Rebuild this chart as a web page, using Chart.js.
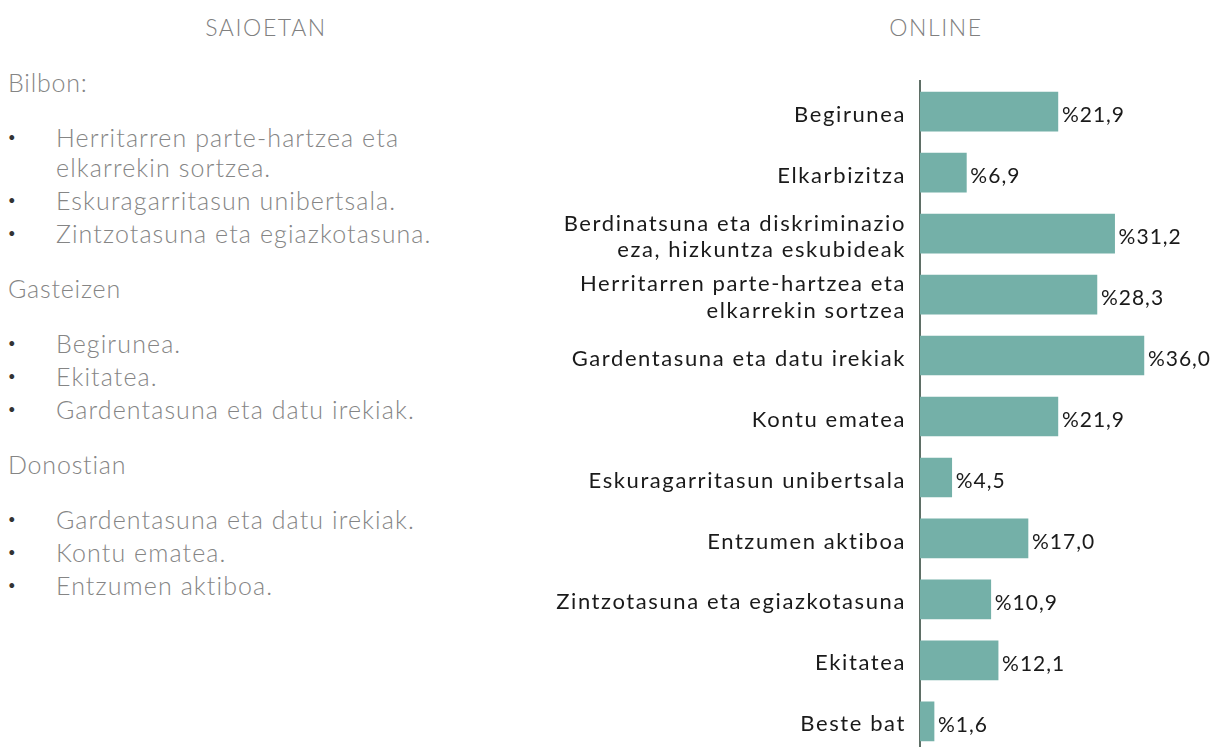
<!DOCTYPE html>
<html>
<head>
<meta charset="utf-8">
<script src="https://cdn.jsdelivr.net/npm/chart.js@4"></script>
<style>
  html, body { margin: 0; padding: 0; background: #fff; width: 1222px; height: 747px; overflow: hidden; }
  body { position: relative; font-family: "Lato", sans-serif; font-weight: 300; color: #858585; }
  .titulo { position: absolute; top: 12px; font-size: 23px; line-height: 30px; color: #808080; width: 300px; text-align: center; letter-spacing: 1.6px; }
  .txt { position: absolute; left: 8px; font-size: 25px; line-height: 30px; letter-spacing: 0.8px; white-space: nowrap; }
  .item { position: absolute; left: 56px; font-size: 25px; line-height: 30px; letter-spacing: 1.1px; white-space: nowrap; }
  .bala { position: absolute; left: 8px; font-size: 13px; line-height: 30px; color: #333; font-weight: 400; }
  #caja { position: absolute; left: 520px; top: 62px; width: 702px; height: 709px; }
</style>
</head>
<body>
<div class="titulo" style="left:116px">SAIOETAN</div>
<div class="titulo" style="left:786px">ONLINE</div>
<div id="izquierda"></div>
<div id="caja"><canvas id="grafico"></canvas></div>
<script>
// lista de la izquierda (saioetan)
let ciudades = ["Bilbon:", "Gasteizen", "Donostian"];
let puntos = [
    [["Herritarren parte-hartzea eta", "elkarrekin sortzea."], ["Eskuragarritasun unibertsala."], ["Zintzotasuna eta egiazkotasuna."]],
    [["Begirunea."], ["Ekitatea."], ["Gardentasuna eta datu irekiak."]],
    [["Gardentasuna eta datu irekiak."], ["Kontu ematea."], ["Entzumen aktiboa."]]
];

// datos online
let etiquetas = [
    "Begirunea",
    "Elkarbizitza",
    ["Berdinatsuna eta diskriminazio", "eza, hizkuntza eskubideak"],
    ["Herritarren parte-hartzea eta", "elkarrekin sortzea"],
    "Gardentasuna eta datu irekiak",
    "Kontu ematea",
    "Eskuragarritasun unibertsala",
    "Entzumen aktiboa",
    "Zintzotasuna eta egiazkotasuna",
    "Ekitatea",
    "Beste bat"
];
let valores = [21.9, 6.9, 31.2, 28.3, 36.0, 21.9, 4.5, 17.0, 10.9, 12.1, 1.6];

let izq = document.getElementById("izquierda");
let html = "";
let y = 67;
for (let i = 0; i < ciudades.length; i++) {
    html += '<div class="txt" style="top:' + y + 'px">' + ciudades[i] + '</div>';
    y += 55;
    for (let p of puntos[i]) {
        html += '<div class="bala" style="top:' + y + 'px">&bull;</div>';
        html += '<div class="item" style="top:' + y + 'px">' + p.join("<br>") + '</div>';
        y += 30 * (p.length - 1) + 33;
    }
    y += 22;
}
izq.innerHTML = html;

// espaciado de letras (la fuente original es mas ancha)
const espaciado = {
    id: "espaciado",
    beforeUpdate(chart) { chart.ctx.letterSpacing = "1.6px"; },
    beforeDraw(chart) { chart.ctx.letterSpacing = "1.6px"; }
};

// etiquetas de valor al final de cada barra
const etiquetasValor = {
    id: "etiquetasValor",
    afterDatasetsDraw(chart) {
        const ctx = chart.ctx;
        const meta = chart.getDatasetMeta(0);
        ctx.save();
        ctx.letterSpacing = "1px";
        ctx.font = "400 21px Lato";
        ctx.fillStyle = "#1a1a1a";
        ctx.textBaseline = "middle";
        meta.data.forEach((bar, i) => {
            let t = "%" + valores[i].toFixed(1).replace(".", ",");
            ctx.fillText(t, bar.x + 4, bar.y + 4);
        });
        ctx.restore();
    }
};

const ctx = document.getElementById("grafico");

new Chart(ctx, {
    type: "bar",
    data: {
        labels: etiquetas,
        datasets: [{
            data: valores,
            backgroundColor: "#74b0a8",
            base: -0.7,
            barThickness: 39
        }]
    },
    options: {
        indexAxis: "y",
        responsive: true,
        maintainAspectRatio: false,
        animation: false,
        layout: { padding: 0 },
        plugins: {
            legend: { display: false },
            tooltip: { enabled: false }
        },
        scales: {
            x: {
                display: false,
                min: -0.7,
                max: 48.8
            },
            y: {
                afterFit(scale) { scale.width = 400; },
                grid: { display: false },
                border: { display: true, color: "#5f6f66", width: 2 },
                ticks: {
                    color: "#1a1a1a",
                    padding: 6,
                    labelOffset: 3,
                    font: { family: "Lato", size: 22, weight: "400" }
                }
            }
        }
    },
    plugins: [espaciado, etiquetasValor]
});
</script>
</body>
</html>
